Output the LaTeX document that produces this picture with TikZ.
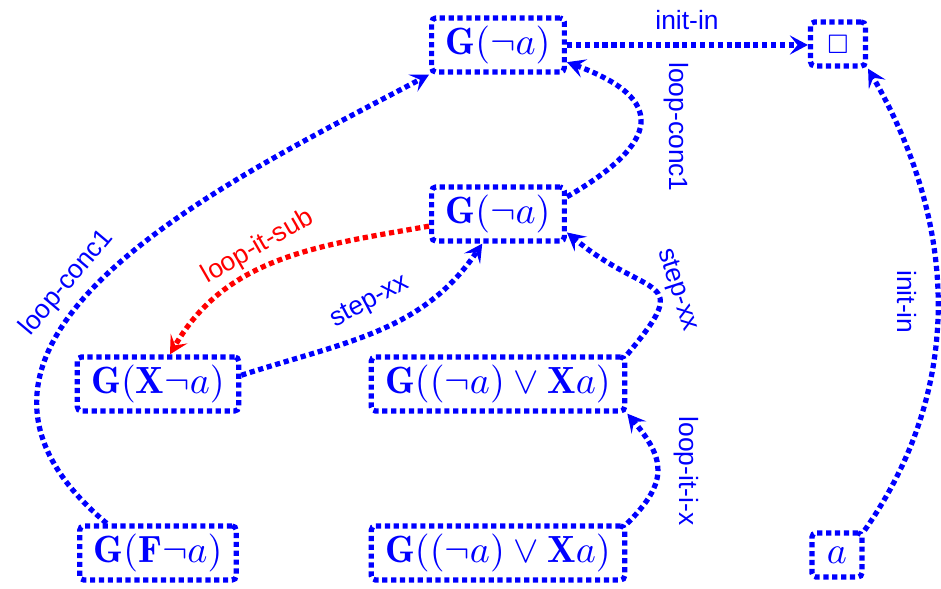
\documentclass[tikz,border=0pt]{standalone}
\usepackage{amssymb}
\usepackage{fontspec}
\setsansfont{Liberation Sans}
\usetikzlibrary{arrows.meta}
\definecolor{myblue}{RGB}{0,0,255}
\definecolor{myred}{RGB}{255,0,0}
\tikzset{
  dotline/.style={line width=1.5pt, dash pattern=on 1.5pt off 1.05pt},
  statebox/.style={draw=myblue, dotline, rounded corners=1.2pt, text=myblue,
    font=\fontsize{10.9}{13}\selectfont,
    inner xsep=4pt, inner ysep=2.3pt, minimum height=12.7pt},
  edge/.style={draw=myblue, dotline, -{Stealth[length=5.2pt,width=5.5pt,inset=2.2pt]}},
  rededge/.style={edge, draw=myred},
  elabel/.style={font=\sffamily\fontsize{7.6}{9}\selectfont, text=myblue, inner sep=1pt},
}
\begin{document}
\begin{tikzpicture}[x=0.2876pt, y=-0.2876pt]
\useasboundingbox (0,0) rectangle (941,589);

\node[statebox] (n1) at (498,45) {$\mathbf{G}(\neg a)$};
\node[statebox, minimum width=15.8pt] (bx) at (838,44) {\fontsize{7}{8}\selectfont$\Box$};
\node[statebox] (n2) at (498,214) {$\mathbf{G}(\neg a)$};
\node[statebox] (n3) at (158,384) {$\mathbf{G}(\mathbf{X}\neg a)$};
\node[statebox] (n4) at (498,384) {$\mathbf{G}((\neg a)\vee\mathbf{X}a)$};
\node[statebox] (n5) at (498,553) {$\mathbf{G}((\neg a)\vee\mathbf{X}a)$};
\node[statebox] (n6) at (158,553) {$\mathbf{G}(\mathbf{F}\neg a)$};
\node[statebox, minimum width=14.4pt] (n7) at (837,555) {$a$};

% init-in (top)
\draw[edge] (n1.east) -- (bx.west |- n1.east);
\node[elabel] (l1) at (687,20) {init-in};

% loop-conc1 (right)
\draw[edge] (n2.14) to[out=30, in=-20, looseness=2.05] (n1.-14);
\node[elabel, rotate=-90] (l2) at (676,127) {loop-conc1};

% loop-conc1 (left)
\draw[edge] (n6.150) to[out=140, in=208, out looseness=1.32, in looseness=1.02] (n1.south west);
\node[elabel, rotate=50] (l3) at (67,283) {loop-conc1};

% loop-it-sub (red)
\draw[rededge] (n2.190) to[out=190, in=60] (n3.68);
\node[elabel, text=myred, rotate=30] (l4) at (258,247) {loop-it-sub};

% step-xx (left)
\draw[edge] (n3.6) to[out=18, in=236] (n2.242);
\node[elabel, rotate=28] (l5) at (370,302) {step-xx};

% step-xx (right)
\draw[edge] (n4.north east) to[out=50, in=-40, looseness=2.0] (n2.-15);
\node[elabel, rotate=-72] (l6) at (677,290) {step-xx};

% loop-it-i-x
\draw[edge] (n5.north east) to[out=45, in=-50, looseness=1.38] (n4.south east);
\node[elabel, rotate=-90] (l7) at (686,471) {loop-it-i-x};

% init-in (right)
\draw[edge] (n7.north east) to[out=55, in=-60, looseness=0.98] (bx.south east);
\node[elabel, rotate=-90] (l8) at (907,302) {init-in};
\end{tikzpicture}
\end{document}
